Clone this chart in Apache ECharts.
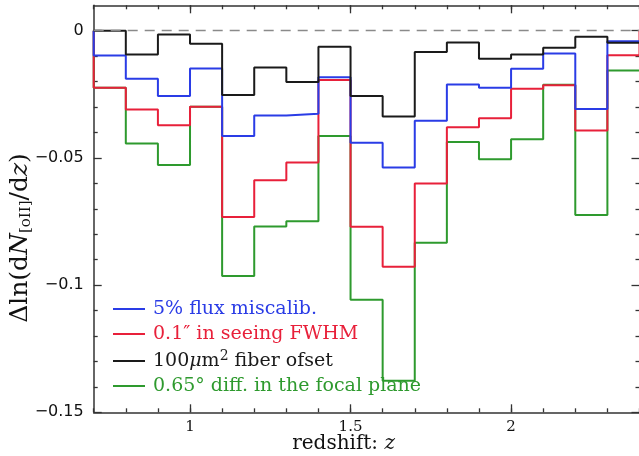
<!DOCTYPE html>
<html><head><meta charset="utf-8">
<script src="https://cdn.jsdelivr.net/npm/echarts@6/dist/echarts.min.js"></script>
<style>html,body{margin:0;padding:0;background:#fff}#c{width:639px;height:456px}</style>
</head><body><div id="c"></div>
<script>
// bin left edges (redshift), bin width 0.1
const binEdges = [0.7,0.8,0.9,1.0,1.1,1.2,1.3,1.4,1.5,1.6,1.7,1.8,1.9,2.0,2.1,2.2,2.3];
const binEnd = 2.4;
const seriesNames = ['5% flux miscalib.', '0.1\u2033 in seeing FWHM', '100\u03bcm\u00b2 fiber ofset', '0.65\u00b0 diff. in the focal plane'];
const fluxMiscalib = [-0.0097,-0.0189,-0.0257,-0.0148,-0.0414,-0.0333,-0.0326,-0.0183,-0.0440,-0.0538,-0.0354,-0.0211,-0.0224,-0.0149,-0.0089,-0.0308,-0.0041];
const seeingFWHM   = [-0.0224,-0.0310,-0.0372,-0.0299,-0.0732,-0.0588,-0.0518,-0.0194,-0.0771,-0.0928,-0.0601,-0.0379,-0.0344,-0.0228,-0.0214,-0.0392,-0.0096];
const fiberOffset  = [0,-0.0093,-0.0015,-0.0051,-0.0253,-0.0145,-0.0202,-0.0063,-0.0257,-0.0337,-0.0084,-0.0046,-0.0110,-0.0093,-0.0067,-0.0024,-0.0047];
const focalPlane   = [-0.0224,-0.0443,-0.0528,-0.0299,-0.0964,-0.0770,-0.0749,-0.0414,-0.1058,-0.1376,-0.0833,-0.0437,-0.0505,-0.0427,-0.0212,-0.0724,-0.0156];
const xMajorTicks = [1, 1.5, 2];
const xMinorStep = 0.1;
const yMajorTicks = [0, -0.05, -0.1, -0.15];
const yMinorTicks = [-0.01,-0.02,-0.03,-0.04,-0.06,-0.07,-0.08,-0.09,-0.11,-0.12,-0.13,-0.14];

function steps(vals, closeEnd) {
  const d = [[binEdges[0], 0]];
  vals.forEach((v, i) => d.push([binEdges[i], v]));
  d.push([binEnd, vals[vals.length - 1]]);
  if (closeEnd) d.push([binEnd, 0]);
  return d;
}
const colors = ['#2a3ce6', '#e8203a', '#1a1a1a', '#2e9a2e'];
const axisCol = '#333';
const serif = 'DejaVu Serif';

function xMajor(pos, line, labels) {
  return {
    type: 'value', position: pos, min: 0.7, max: 2.4,
    axisLine: {show: line, onZero: false, lineStyle: {color: axisCol, width: 1.5}},
    axisTick: {show: true, inside: true, length: 8, customValues: xMajorTicks, lineStyle: {color: axisCol, width: 1.3}},
    axisLabel: labels ? {show: true, customValues: xMajorTicks, fontFamily: serif, fontSize: 15, color: '#111', margin: 7} : {show: false},
    splitLine: {show: false}
  };
}
function xMinor(pos) {
  return {
    type: 'value', position: pos, min: 0.7, max: 2.4, interval: xMinorStep,
    axisLine: {show: false, onZero: false},
    axisTick: {show: true, inside: true, length: 4, lineStyle: {color: axisCol, width: 1.3}},
    axisLabel: {show: false},
    splitLine: {show: false}
  };
}
function yAx(pos, vals, len, line, labels) {
  return {
    type: 'value', position: pos, min: -0.15, max: 0.01,
    axisLine: {show: line, onZero: false, lineStyle: {color: axisCol, width: 1.5}},
    axisTick: {show: true, inside: true, length: len, customValues: vals, lineStyle: {color: axisCol, width: 1.3}},
    axisLabel: labels ? {show: true, customValues: vals, fontFamily: 'DejaVu Sans', fontSize: 16, color: '#111', margin: 10,
      padding: [7, 0, 0, 0],
      formatter: v => v === 0 ? '0' : '\u2212' + String(Math.abs(v))} : {show: false},
    splitLine: {show: false}
  };
}

const xA0 = xMajor('bottom', true, true);
xA0.name = 'redshift: {i|z}';
xA0.nameLocation = 'middle';
xA0.nameGap = 21;
xA0.nameMoveOverlap = false;
xA0.nameTextStyle = {fontFamily: serif, fontSize: 20, color: '#111', padding: [0, 46, 0, 0],
  rich: {i: {fontFamily: serif, fontStyle: 'italic', fontSize: 20}}};

const chart = echarts.init(document.getElementById('c'), null, {renderer: 'canvas'});
const data = [fluxMiscalib, seeingFWHM, fiberOffset, focalPlane];
const order = [3, 1, 0, 2];
const series = order.map(k => ({
  name: seriesNames[k], type: 'line', step: 'end', symbol: 'none', clip: false,
  data: steps(data[k], k === 1),
  lineStyle: {color: colors[k], width: 2}, itemStyle: {color: colors[k]},
  z: 3, animation: false
}));
series.push({
  type: 'line', data: [], silent: true, animation: false,
  markLine: {silent: true, symbol: ['none', 'none'], label: {show: false},
    lineStyle: {color: '#8a8a8a', type: [10, 7], width: 1.3},
    data: [{yAxis: 0}]}
});

chart.setOption({
  animation: false,
  backgroundColor: '#fff',
  grid: {left: 93.7, top: 5.3, width: 545.8, height: 407, containLabel: false, outerBoundsMode: 'none'},
  xAxis: [xA0, xMinor('bottom'), xMajor('top', true, false), xMinor('top')],
  yAxis: [yAx('left', yMajorTicks, 8, true, true), yAx('left', yMinorTicks, 4, false, false), yAx('right', yMajorTicks, 8, false, false), yAx('right', yMinorTicks, 4, false, false)],
  legend: {
    show: true, orient: 'vertical', left: 113, top: 299, padding: 0,
    icon: 'rect', itemWidth: 32, itemHeight: 2, itemGap: 5, selectedMode: false,
    textStyle: {fontFamily: serif, fontSize: 19, lineHeight: 20, padding: [0, 0, 0, 3],
      rich: {mu: {fontFamily: serif, fontStyle: 'italic', fontSize: 19}, sup: {fontFamily: serif, fontSize: 14, padding: [0, 0, 10, 0]}}},
    formatter: name => name === seriesNames[2] ? '100{mu|\u03bc}m{sup|2} fiber ofset' : name,
    data: seriesNames.map((n, k) => ({name: n, textStyle: {color: colors[k]}, itemStyle: {color: colors[k]}}))
  },
  graphic: [{
    type: 'text', x: 20, y: 238, rotation: Math.PI / 2,
    style: {
      text: '\u0394ln(d{i|N}{sub|[oII]}/d{i|z})',
      fontFamily: serif, fontSize: 25, fill: '#111', align: 'center', verticalAlign: 'middle',
      rich: {i: {fontFamily: serif, fontStyle: 'italic', fontSize: 25}, sub: {fontFamily: serif, fontSize: 15, padding: [12, 0, 0, 0]}}
    }
  }],
  series: series
});
</script>
</body></html>
